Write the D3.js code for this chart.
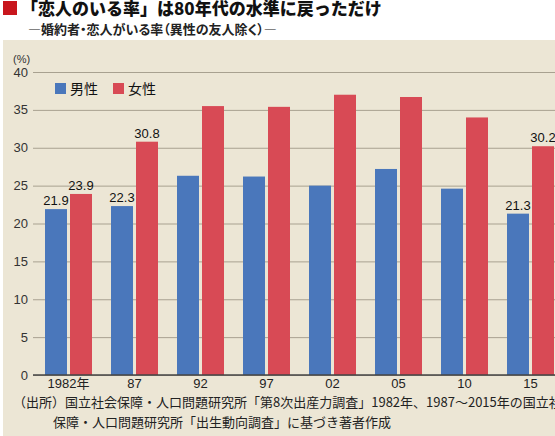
<!DOCTYPE html>
<html lang="ja">
<head>
  <meta charset="UTF-8">
  <title>恋人のいる率</title>
  <script src="https://d3js.org/d3.v7.min.js"></script>
  <style>
    body {
      margin: 0;
      background: #fff;
    }
    svg {
      display: block;
      font-family: "Liberation Sans", "Noto Sans CJK JP", sans-serif;
    }
    .jp {
      font-family: "Noto Sans CJK JP", sans-serif;
    }
    .palt {
      font-feature-settings: "palt";
    }
  </style>
</head>
<body>
<svg width="555" height="436"></svg>
<script>
  // data
  const years = ["1982年", "87", "92", "97", "02", "05", "10", "15"];
  const male = [21.9, 22.3, 26.3, 26.2, 25.0, 27.2, 24.6, 21.3];
  const female = [23.9, 30.8, 35.5, 35.4, 37.0, 36.7, 34.0, 30.2];
  const labelled = ["1982年", "87", "15"];
  const yTicks = [0, 5, 10, 15, 20, 25, 30, 35, 40];
  const seriesNames = ["男性", "女性"];

  const colors = { "男性": "#4a77bb", "女性": "#d84a55" };

  const rows = years.map((y, i) => ({ year: y, "男性": male[i], "女性": female[i] }));

  const svg = d3.select("svg");

  // title block
  svg.append("rect").attr("x", 3).attr("y", 1).attr("width", 14).attr("height", 14).attr("fill", "#c8161d");
  svg.append("text").attr("class", "jp")
    .attr("x", 21).attr("y", 15)
    .attr("font-size", 17).attr("font-weight", 900).attr("fill", "#111")
    .text("「恋人のいる率」は80年代の水準に戻っただけ");
  svg.append("text").attr("class", "jp palt")
    .attr("x", 28).attr("y", 34)
    .attr("font-size", 13).attr("font-weight", "bold").attr("fill", "#222")
    .text("—婚約者・恋人がいる率（異性の友人除く）—");

  // panel
  svg.append("rect").attr("x", 3).attr("y", 40).attr("width", 560).attr("height", 400).attr("fill", "#ece6d5");

  const x = d3.scaleBand().domain(years).range([35.5, 563.5]).paddingInner(0.288).paddingOuter(0.144);
  const xs = d3.scaleBand().domain(seriesNames).range([0, x.bandwidth()]).paddingInner(0.12);
  const y = d3.scaleLinear().domain([0, 40]).range([375, 72]);

  // grid
  const grid = svg.append("g").attr("transform", "translate(33,0)")
    .call(d3.axisLeft(y).tickValues(yTicks).tickSize(-560).tickFormat(""));
  grid.select(".domain").remove();
  grid.selectAll("line").attr("stroke", "#a8a190").attr("stroke-width", 1);

  // y labels
  svg.append("g").selectAll("text").data(yTicks).join("text")
    .attr("x", 28).attr("y", d => y(d)).attr("dy", "0.35em")
    .attr("text-anchor", "end").attr("font-size", 13).attr("fill", "#333")
    .text(d => d);
  svg.append("text").attr("x", 13).attr("y", 63).attr("font-size", 11).attr("fill", "#333").text("(%)");

  // bars
  const groups = svg.append("g").selectAll("g").data(rows).join("g")
    .attr("transform", d => `translate(${x(d.year)},0)`);
  groups.selectAll("rect").data(d => seriesNames.map(k => ({ key: k, value: d[k], year: d.year }))).join("rect")
    .attr("x", d => xs(d.key)).attr("width", xs.bandwidth())
    .attr("y", d => y(d.value)).attr("height", d => y(0) - y(d.value))
    .attr("fill", d => colors[d.key]);
  groups.selectAll("text").data(d => labelled.includes(d.year) ? seriesNames.map(k => ({ key: k, value: d[k] })) : []).join("text")
    .attr("x", d => xs(d.key) + xs.bandwidth() / 2).attr("y", d => y(d.value) - 4)
    .attr("text-anchor", "middle").attr("font-size", 13).attr("fill", "#111")
    .text(d => d.value.toFixed(1));

  // baseline
  svg.append("line").attr("x1", 33).attr("x2", 563).attr("y1", y(0)).attr("y2", y(0))
    .attr("stroke", "#444").attr("stroke-width", 1.3);

  // x labels
  svg.append("g").selectAll("text").data(years).join("text")
    .attr("x", d => x(d) + x.bandwidth() / 2).attr("y", 388)
    .attr("text-anchor", "middle").attr("font-size", 13).attr("fill", "#222")
    .text(d => d);

  // legend
  const legend = svg.append("g").selectAll("g").data(seriesNames).join("g")
    .attr("transform", (d, i) => `translate(${55 + i * 58},83)`);
  legend.append("rect").attr("width", 11).attr("height", 11).attr("fill", d => colors[d]);
  legend.append("text").attr("class", "jp").attr("x", 15).attr("y", 10.5)
    .attr("font-size", 14).attr("fill", "#111").text(d => d);

  // source note
  svg.append("text").attr("class", "jp").attr("x", 13).attr("y", 407)
    .attr("font-size", 13).attr("fill", "#222")
    .text("（出所）国立社会保障・人口問題研究所「第8次出産力調査」1982年、1987～2015年の国立社会");
  svg.append("text").attr("class", "jp").attr("x", 53).attr("y", 427)
    .attr("font-size", 13).attr("fill", "#222")
    .text("保障・人口問題研究所「出生動向調査」に基づき著者作成");
</script>
</body>
</html>
